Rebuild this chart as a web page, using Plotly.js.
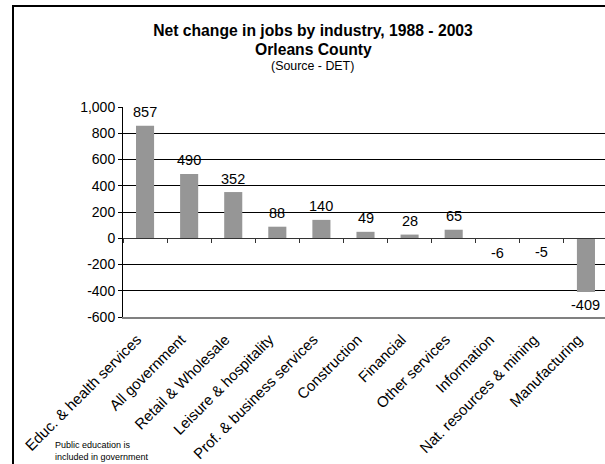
<!DOCTYPE html>
<html>
<head>
<meta charset="utf-8">
<script src="https://cdn.plot.ly/plotly-3.0.1.min.js"></script>
<style>
html, body { margin: 0; padding: 0; overflow: hidden; background: #fff; }
#chart { width: 610px; height: 464px; }
</style>
</head>
<body>
<div id="chart"></div>
<script>
const categories = ["Educ. & health services", "All government", "Retail & Wholesale", "Leisure & hospitality",
  "Prof. & business services", "Construction", "Financial", "Other services", "Information",
  "Nat. resources & mining", "Manufacturing"];
const jobChange = [857, 490, 352, 88, 140, 49, 28, 65, -6, -5, -409];
const yTickVals = [-600, -400, -200, 0, 200, 400, 600, 800, 1000];
const yTickText = ["-600", "-400", "-200", "0", "200", "400", "600", "800", "1,000"];
const titleText = "Net change in jobs by industry, 1988 - 2003";
const subtitleText = "Orleans County";
const sourceText = "(Source - DET)";
const noteText = "Public education is<br>included in government";

const FONT = "Liberation Sans, Arial, sans-serif";

const bars = {
  type: "bar",
  x: categories,
  y: jobChange,
  xaxis: "x",
  yaxis: "y",
  marker: { color: "#969696", line: { width: 0 } },
  hoverinfo: "x+y"
};
const zeroAxisTrace = {
  type: "bar",
  x: categories,
  y: jobChange,
  xaxis: "x2",
  yaxis: "y",
  marker: { color: "rgba(0,0,0,0)", line: { width: 0 } },
  hoverinfo: "skip",
  showlegend: false
};

const valueLabels = categories.map((c, i) => ({
  x: c, y: jobChange[i], xref: "x", yref: "y",
  text: String(jobChange[i]),
  showarrow: false,
  yanchor: "middle",
  yshift: jobChange[i] >= 0 ? 13.5 : -13.5,
  font: { family: FONT, size: 14.5, color: "#000" }
}));

const layout = {
  width: 610, height: 464,
  margin: { l: 123, r: 2, t: 107, b: 147, pad: 0 },
  paper_bgcolor: "#fff", plot_bgcolor: "#fff",
  showlegend: false,
  bargap: 0.59,
  barmode: "overlay",
  font: { family: FONT, color: "#000" },
  title: {
    text: "<b>" + titleText + "</b>",
    x: 313 / 610, xanchor: "center", xref: "container",
    y: 1 - 31 / 464, yanchor: "middle", yref: "container",
    font: { family: FONT, size: 15.7, color: "#000" }
  },
  xaxis: {
    type: "category",
    categoryarray: categories,
    anchor: "y",
    showline: true, linecolor: "#808080", linewidth: 2,
    ticks: "", tickangle: -45,
    ticklabelstandoff: 6, ticklabelshift: -8,
    tickfont: { family: FONT, size: 15, color: "#000" },
    showgrid: false, zeroline: false,
    fixedrange: true
  },
  xaxis2: {
    type: "category",
    categoryarray: categories,
    overlaying: "x",
    anchor: "free", position: 0.375,
    side: "bottom",
    showline: true, linecolor: "#333", linewidth: 1,
    ticks: "outside", ticklen: 4, tickcolor: "#333", tickwidth: 1,
    tickson: "boundaries",
    showticklabels: false,
    showgrid: false, zeroline: false,
    fixedrange: true
  },
  yaxis: {
    range: [-600, 1000],
    tickvals: yTickVals, ticktext: yTickText,
    showline: true, linecolor: "#000", linewidth: 1,
    ticks: "outside", ticklen: 4, tickcolor: "#000",
    tickfont: { family: FONT, size: 14, color: "#000" },
    showgrid: true, gridcolor: "#000", gridwidth: 1,
    zeroline: false,
    fixedrange: true
  },
  shapes: [{
    type: "rect", xref: "paper", yref: "paper",
    x0: (13 - 123) / 485, x1: (640 - 123) / 485,
    y0: (317 - 500) / 210, y1: (317 - 6) / 210,
    line: { color: "#000", width: 2 }, fillcolor: "rgba(0,0,0,0)"
  }],
  annotations: valueLabels.concat([
    {
      xref: "paper", yref: "paper",
      x: (313 - 123) / 485, y: (317 - 49.3) / 210,
      xanchor: "center", yanchor: "middle",
      text: "<b>" + subtitleText + "</b>", showarrow: false,
      font: { family: FONT, size: 15.7, color: "#000" }
    },
    {
      xref: "paper", yref: "paper",
      x: (312 - 123) / 485, y: (317 - 65.7) / 210,
      xanchor: "center", yanchor: "middle",
      text: sourceText, showarrow: false,
      font: { family: FONT, size: 12.4, color: "#000" }
    },
    {
      xref: "paper", yref: "paper",
      x: (53 - 123) / 485, y: (317 - 438) / 210,
      xanchor: "left", yanchor: "top", align: "left",
      text: noteText, showarrow: false,
      font: { family: FONT, size: 9, color: "#000" }
    }
  ])
};

Plotly.newPlot("chart", [bars, zeroAxisTrace], layout, { staticPlot: true, displayModeBar: false });
</script>
</body>
</html>
